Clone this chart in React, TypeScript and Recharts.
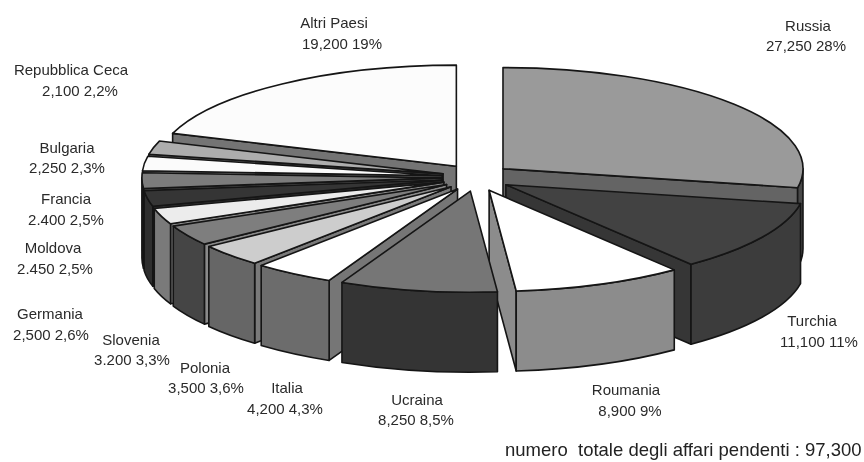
import React from "react";
import { PieChart, Pie } from "recharts";

const countries = ["Russia", "Turchia", "Roumania", "Ucraina", "Italia", "Polonia", "Slovenia", "Germania", "Moldova", "Francia", "Bulgaria", "Repubblica Ceca", "Altri Paesi"];
const values = [27250, 11100, 8900, 8250, 4200, 3500, 3200, 2500, 2450, 2400, 2250, 2100, 19200];
const valueLabels = ["27,250 28%", "11,100 11%", "8,900 9%", "8,250 8,5%", "4,200 4,3%", "3,500 3,6%", "3.200 3,3%", "2,500 2,6%", "2.450 2,5%", "2.400 2,5%", "2,250 2,3%", "2,100 2,2%", "19,200 19%"];
const footer = "numero  totale degli affari pendenti : 97,300";

const topColors = ["#9a9a9a", "#424242", "#ffffff", "#767676", "#ffffff", "#cdcdcd", "#7e7e7e", "#ececec", "#353535", "#7c7c7c", "#fbfbfb", "#adadad", "#fcfcfc"];
const cutColors = ["#646464", "#363636", "#8c8c8c", "#3a3a3a", "#767676", "#7a7a7a", "#8a8a8a", "#8a8a8a", "#2e2e2e", "#555555", "#777777", "#5e5e5e", "#747474"];
const wallColors = ["#484848", "#3c3c3c", "#8c8c8c", "#343434", "#6c6c6c", "#666666", "#454545", "#7a7a7a", "#2e2e2e", "#3a3a3a", "#555555", "#555555", "#747474"];

// centres of the two text lines of each label, in picture coordinates
const labelSpots: [number, number, number, number][] = [
  [808, 25, 806, 45], [812, 320, 819, 341], [626, 389, 630, 410], [417, 399, 416, 419],
  [287, 387, 285, 408], [205, 367, 206, 387], [131, 339, 132, 359], [50, 313, 51, 334],
  [53, 247, 55, 268], [66, 198, 66, 219], [67, 147, 67, 167], [71, 69, 80, 90], [334, 22, 342, 43],
];

const rows = countries.map((name, i) => ({ name, value: values[i], order: i }));
const rowsBackToFront = [...rows].reverse();
const rightSide = new Set(["Russia", "Turchia", "Roumania"]);

const W = 864, H = 462, CX = 476.4, CY = 177.5, RX = 300, SQUASH = 0.337, EXPLODE = 34.5, EXPLODE_Y = 0.4, DEPTH = 80;
const LINE = "#151515";
const EDGE = 1.6;

function Slice3D(p: any) {
  const lo = Math.min(p.startAngle, p.endAngle);
  const hi = Math.max(p.startAngle, p.endAngle);
  const mid = ((lo + hi) / 2) * (Math.PI / 180);
  const ax = p.cx + EXPLODE * Math.cos(mid);
  const ay = p.cy - EXPLODE * EXPLODE_Y * Math.sin(mid);
  const rx = p.outerRadius;
  const ry = rx * SQUASH;
  const at = (deg: number, down = 0) => {
    const r = (deg * Math.PI) / 180;
    return [ax + rx * Math.cos(r), ay - ry * Math.sin(r) + down];
  };
  const arc = (from: number, to: number, down = 0, lead = "M") => {
    const [x0, y0] = at(from, down);
    const [x1, y1] = at(to, down);
    const big = Math.abs(to - from) > 180 ? 1 : 0;
    const sweep = to < from ? 1 : 0;
    return `${lead}${x0} ${y0}A${rx} ${ry} 0 ${big} ${sweep} ${x1} ${y1}`;
  };
  const i = p.order;
  const faces: React.ReactNode[] = [];
  const [mx, my] = at((lo + hi) / 2);
  [hi, lo].forEach((deg) => {
    const [x, y] = at(deg);
    const dx = x - ax;
    if (Math.abs(dx) < 1) return;
    const cross = ((my - ay) * dx - (y - ay) * (mx - ax)) / dx;
    if (cross < 0) {
      faces.push(
        <path key={deg} d={`M${ax} ${ay}L${x} ${y}L${x} ${y + DEPTH}L${ax} ${ay + DEPTH}Z`} fill={cutColors[i]} stroke={LINE} strokeWidth={EDGE} strokeLinejoin="round" />
      );
    }
  });
  const walls: React.ReactNode[] = [];
  for (let k = -2; k <= 2; k++) {
    const s = Math.max(lo, 180 + 360 * k);
    const e = Math.min(hi, 360 + 360 * k);
    if (e > s) {
      const [bx, by] = at(s, DEPTH);
      walls.push(
        <path key={k} d={`${arc(e, s)}L${bx} ${by}${arc(s, e, DEPTH, "").replace(/^[^A]*/, "")}Z`} fill={wallColors[i]} stroke={LINE} strokeWidth={EDGE} strokeLinejoin="round" />
      );
    }
  }
  return (
    <g>
      {faces}
      {walls}
      <path d={`M${ax} ${ay}L${at(hi).join(" ")}${arc(hi, lo).replace(/^[^A]*/, "")}Z`} fill={topColors[i]} stroke={LINE} strokeWidth={EDGE} strokeLinejoin="round" />
    </g>
  );
}

const textStyle = { fontFamily: "'Liberation Sans', Arial, sans-serif", fontSize: 15, fill: "#2a2a2a" };

function renderLabel(p: any) {
  const i = p.order ?? p.payload?.order;
  const s = labelSpots[i];
  return (
    <g key={countries[i]}>
      <text x={s[0]} y={s[1]} textAnchor="middle" dominantBaseline="central" style={textStyle}>{countries[i]}</text>
      <text x={s[2]} y={s[3]} textAnchor="middle" dominantBaseline="central" style={textStyle}>{valueLabels[i]}</text>
    </g>
  );
}

const backShape = (p: any) => (rightSide.has(p.name) ? <g /> : <Slice3D {...p} />);
const rightShape = (p: any) => (rightSide.has(p.name) ? <Slice3D {...p} /> : <g />);

export default function App() {
  return (
    <div style={{ position: "absolute", left: 0, top: 0, width: W, height: H, background: "#fff", filter: "blur(0.4px)" }}>
      <PieChart width={W} height={H} margin={{ top: 0, right: 0, bottom: 0, left: 0 }}>
        <Pie data={rows} dataKey="value" nameKey="name" cx={CX} cy={CY} innerRadius={0} outerRadius={RX} startAngle={90} endAngle={-270} stroke="none" isAnimationActive={false} shape={rightShape} />
        <Pie data={rowsBackToFront} dataKey="value" nameKey="name" cx={CX} cy={CY} innerRadius={0} outerRadius={RX} startAngle={90} endAngle={450} stroke="none" isAnimationActive={false} shape={backShape} label={renderLabel} labelLine={false} />
      </PieChart>
      <div style={{ position: "absolute", left: 505, top: 440, width: 358, lineHeight: "20px", whiteSpace: "pre", fontFamily: "'Liberation Sans', Arial, sans-serif", fontSize: 18.5, color: "#222" }}>{footer}</div>
    </div>
  );
}
